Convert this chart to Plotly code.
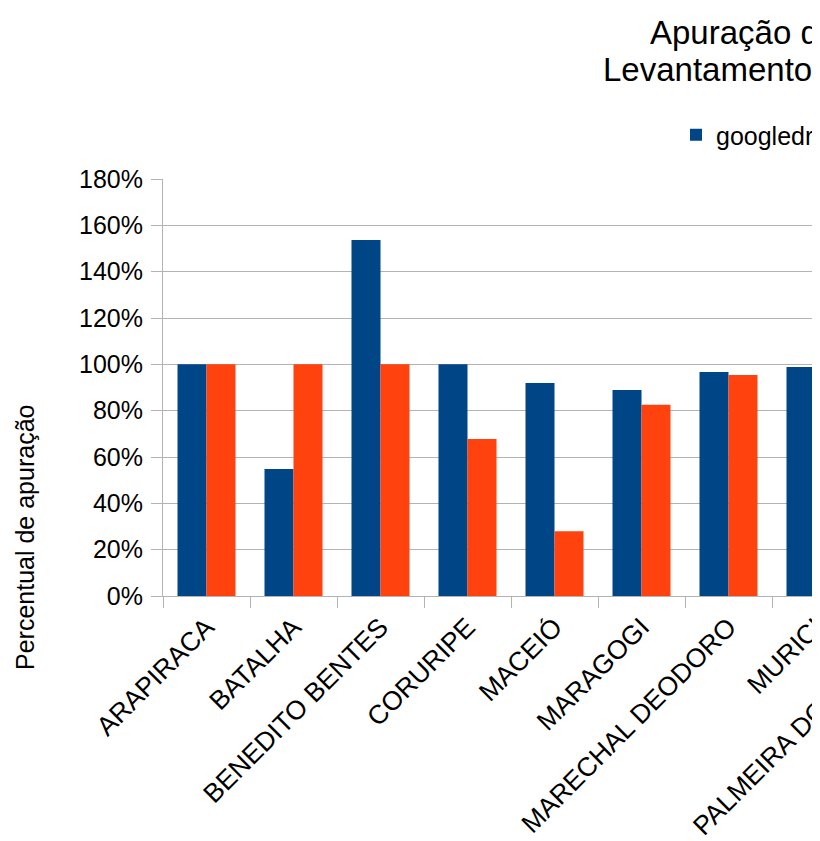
import plotly.graph_objects as go

# ---- data ----
municipios = ["ARAPIRACA", "BATALHA", "BENEDITO BENTES", "CORURIPE", "MACEIÓ",
              "MARAGOGI", "MARECHAL DEODORO", "MURICI", "PALMEIRA DOS ÍNDIOS"]
googledrive = [1.00, 0.548, 1.537, 1.00, 0.919, 0.889, 0.967, 0.988, 1.00]
tre = [1.00, 1.00, 1.00, 0.678, 0.28, 0.826, 0.954, 1.00, 1.00]
serie_nomes = ["googledrive", "TRE-AL"]
y_ticks = [0, 0.2, 0.4, 0.6, 0.8, 1.0, 1.2, 1.4, 1.6, 1.8]
y_tick_labels = ["0%", "20%", "40%", "60%", "80%", "100%", "120%", "140%", "160%", "180%"]
titulo_l1 = "Apuração de votos por município"
titulo_l2 = "Levantamento googledrive x TRE-AL"
y_titulo = "Percentual de apuração"

# ---- layout geometry (screen pixels, page body has an 8px margin) ----
OFF = 8
W, H = 1300, 841
L = 163 - OFF
T = 179 - OFF
PB = 596 - OFF
CAT_W = 87
PW = CAT_W * len(municipios)
PH = PB - T
R = W - L - PW
B = H - PB

def px(x):
    return (x - OFF - L) / PW

def py(y):
    return (PB - (y - OFF)) / PH

FONT = "Liberation Sans, Arial, sans-serif"
GRID = "#b3b3b3"
FS = 25

fig = go.Figure()
fig.add_trace(go.Bar(x=municipios, y=googledrive, name=serie_nomes[0],
                     marker=dict(color="#004586", line=dict(width=0))))
fig.add_trace(go.Bar(x=municipios, y=tre, name=serie_nomes[1],
                     marker=dict(color="#ff420e", line=dict(width=0))))

fig.update_layout(
    width=W, height=H,
    margin=dict(l=L, r=R, t=T, b=B, pad=0, autoexpand=False),
    paper_bgcolor="white", plot_bgcolor="white",
    barmode="group", bargap=1/3, bargroupgap=0,
    font=dict(family=FONT, size=FS, color="black"),
    showlegend=True,
    legend=dict(orientation="h", x=px(676), y=py(135), xanchor="left", yanchor="middle",
                font=dict(size=FS, family=FONT), bgcolor="rgba(0,0,0,0)",
                itemclick=False),
    xaxis=dict(type="category", range=[-0.5, len(municipios) - 0.5],
               showline=True, linecolor=GRID, linewidth=1,
               ticks="outside", ticklen=11, tickcolor=GRID, tickwidth=1,
               tickson="boundaries", tickangle=-45, showgrid=False,
               ticklabelstandoff=4,
               tickfont=dict(size=26.5, family=FONT, color="black")),
    yaxis=dict(range=[0, 1.8], tickvals=y_ticks, ticktext=y_tick_labels,
               showline=True, linecolor=GRID, linewidth=1,
               ticks="outside", ticklen=11, tickcolor=GRID, tickwidth=1,
               showgrid=True, gridcolor=GRID, gridwidth=1, zeroline=False,
               ticklabelstandoff=3,
               tickfont=dict(size=FS, family=FONT, color="black")),
    annotations=[
        dict(text=titulo_l1, xref="paper", yref="paper", x=px(648), y=py(32),
             xanchor="left", yanchor="middle", showarrow=False,
             font=dict(size=33, family=FONT, color="black")),
        dict(text=titulo_l2, xref="paper", yref="paper", x=px(601), y=py(69),
             xanchor="left", yanchor="middle", showarrow=False,
             font=dict(size=33, family=FONT, color="black")),
        dict(text=y_titulo, xref="paper", yref="paper", x=px(25), y=py(538),
             xanchor="center", yanchor="middle", textangle=-90, showarrow=False,
             font=dict(size=FS, family=FONT, color="black")),
    ],
)

fig.write_html("out.html")
